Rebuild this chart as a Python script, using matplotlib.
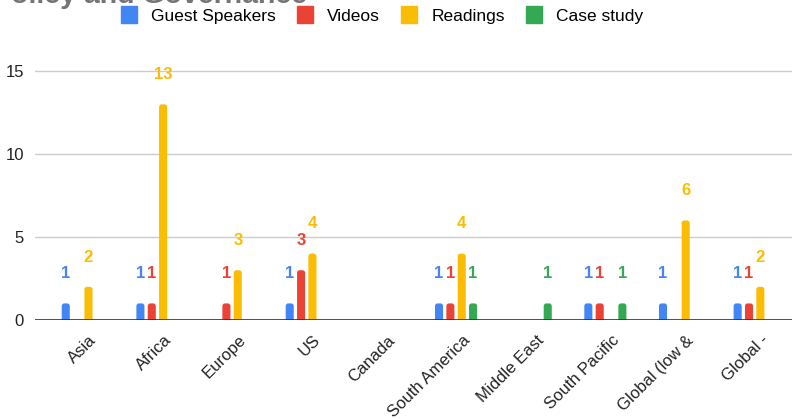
import matplotlib
matplotlib.use("Agg")
import matplotlib.pyplot as plt
from matplotlib.patches import FancyBboxPatch, Patch
import numpy as np

plt.rcParams['font.family'] = ['Liberation Sans', 'DejaVu Sans']

# data
regions = ['Asia', 'Africa', 'Europe', 'US', 'Canada', 'South America',
           'Middle East', 'South Pacific', 'Global (low &', 'Global -']
guest_speakers = [1, 1, 0, 1, 0, 1, 0, 1, 1, 1]
videos = [0, 1, 1, 3, 0, 1, 0, 1, 0, 1]
readings = [2, 13, 3, 4, 0, 4, 0, 0, 6, 2]
case_study = [0, 0, 0, 0, 0, 1, 1, 1, 0, 0]

series = [('Guest Speakers', guest_speakers, '#4285F4'),
          ('Videos', videos, '#EA4335'),
          ('Readings', readings, '#FBBC04'),
          ('Case study', case_study, '#34A853')]

fig = plt.figure(figsize=(7.92, 4.19), dpi=100)
ax = fig.add_axes([35 / 792, 1 - 320 / 419, 1 - 35 / 792, 282 / 419])

x = np.arange(len(regions))
step = 0.152
width = 0.108
for i, (name, vals, col) in enumerate(series):
    pos = x + (i - 1.5) * step
    bars = ax.bar(pos, vals, width, color=col, zorder=3)
    # swap plain bars for ones with rounded tops (bottom part hidden below 0)
    for b in bars:
        h = b.get_height()
        b.set_visible(False)
        if h:
            ax.add_patch(FancyBboxPatch((b.get_x(), -0.3), width, h + 0.3,
                                        boxstyle='round,pad=0,rounding_size=0.035',
                                        mutation_aspect=4.6, color=col, zorder=3,
                                        linewidth=0))
    for px, v in zip(pos, vals):
        if v:
            ax.annotate(str(v), (px, v), xytext=(0, 16), textcoords='offset points',
                        ha='center', va='bottom', color=col, fontsize=12,
                        fontweight='bold')

ax.set_xlim(-0.64, 9.5)
ax.set_ylim(0, 17)
ax.set_yticks([0, 5, 10, 15])
ax.yaxis.grid(True, color='#cccccc', linewidth=1, zorder=0)
ax.axhline(0, color='#333333', linewidth=1.2, zorder=4)
for s in ax.spines.values():
    s.set_visible(False)
ax.tick_params(axis='both', length=0, labelsize=12, colors='#222222')
ax.tick_params(axis='y', pad=8)
ax.tick_params(axis='x', pad=9, labelsize=12)
ax.set_xticks(x)
ax.set_xticklabels(regions, rotation=45, ha='right', rotation_mode='anchor')
for lab in ax.get_xticklabels():
    lab.set_transform(lab.get_transform() + matplotlib.transforms.ScaledTranslation(0.06, 0, fig.dpi_scale_trans))

fig.text(-8 / 792, 1 - 3 / 419, 'Policy and Governance', fontsize=20.5,
         fontweight='bold', color='#757575', ha='left', va='baseline')

handles = [Patch(color=col, label=name) for name, _, col in series]
fig.legend(handles=handles, loc='center', bbox_to_anchor=(382 / 792, 1 - 15 / 419),
           ncol=4, frameon=False, fontsize=12.5, handlelength=0.95, handleheight=1.1,
           columnspacing=1.2, handletextpad=0.8)

fig.savefig('out.png', dpi=100)
